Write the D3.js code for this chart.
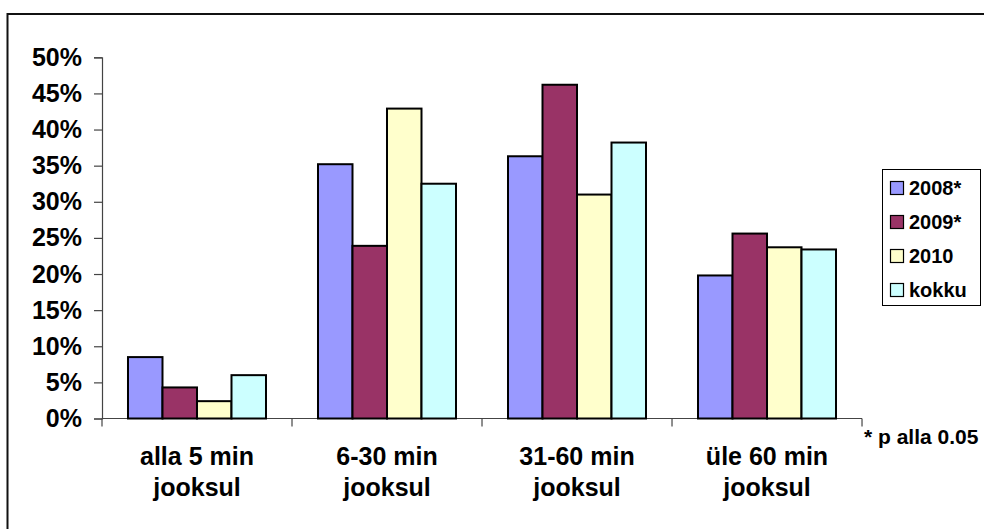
<!DOCTYPE html>
<html>
<head>
<meta charset="utf-8">
<script src="https://cdn.jsdelivr.net/npm/d3@7/dist/d3.min.js"></script>
<style>
  html, body { margin: 0; padding: 0; background: #fff; }
  svg { display: block; }
  text { font-family: Arial, "Liberation Sans", sans-serif; font-weight: bold; fill: #000; }
</style>
</head>
<body>
<svg id="chart" width="984" height="529"></svg>
<script>
// Response time categories (two-line labels)
const categories = ["alla 5 min|jooksul", "6-30 min|jooksul", "31-60 min|jooksul", "üle 60 min|jooksul"];
const seriesNames = ["2008*", "2009*", "2010", "kokku"];
const seriesColors = ["#9999FF", "#993366", "#FFFFCC", "#CCFFFF"];

// Shares per category, one array per series
const s2008 = [0.085, 0.352, 0.363, 0.198];
const s2009 = [0.043, 0.239, 0.462, 0.256];
const s2010 = [0.024, 0.429, 0.310, 0.237];
const sKokku = [0.060, 0.325, 0.382, 0.234];
const seriesValues = [s2008, s2009, s2010, sKokku];

const yTicks = [0, 0.05, 0.10, 0.15, 0.20, 0.25, 0.30, 0.35, 0.40, 0.45, 0.50];
const footnote = "* p alla 0.05";

const svg = d3.select("#chart");

// Outer frame
svg.append("rect")
  .attr("x", 7.5).attr("y", 14)
  .attr("width", 1000).attr("height", 600)
  .attr("fill", "none").attr("stroke", "#111").attr("stroke-width", 2);

const plot = { left: 102, right: 862, top: 57.3, bottom: 418.5 };

const y = d3.scaleLinear().domain([0, 0.5]).range([plot.bottom, plot.top]);

const x0 = d3.scaleBand()
  .domain(categories)
  .range([plot.left, plot.right])
  .paddingInner(0.2737)
  .paddingOuter(0.1368);

const x1 = d3.scaleBand()
  .domain(seriesNames)
  .range([0, x0.bandwidth()]);

// Y axis
const yAxis = d3.axisLeft(y)
  .tickValues(yTicks)
  .tickFormat(d3.format(".0%"))
  .tickSize(8)
  .tickPadding(12);

const gy = svg.append("g")
  .attr("transform", `translate(${plot.left},0)`)
  .call(yAxis);
gy.select(".domain").attr("stroke", "#444").attr("stroke-width", 1.2);
gy.selectAll(".tick line").attr("stroke", "#444").attr("stroke-width", 1.2);
gy.selectAll(".tick text")
  .style("font-size", "25px")
  .style("font-family", "Arial, 'Liberation Sans', sans-serif")
  .style("font-weight", "bold")
  .attr("fill", "#000");

// X axis line with category boundary ticks
const step = x0.step();
const boundaries = d3.range(categories.length + 1).map(i => plot.left + i * step);
svg.append("line")
  .attr("x1", plot.left).attr("x2", plot.right)
  .attr("y1", y(0)).attr("y2", y(0))
  .attr("stroke", "#444").attr("stroke-width", 1.2);
svg.selectAll(".xtick")
  .data(boundaries)
  .join("line")
  .attr("class", "xtick")
  .attr("x1", d => d).attr("x2", d => d)
  .attr("y1", y(0)).attr("y2", y(0) + 8)
  .attr("stroke", "#444").attr("stroke-width", 1.2);

// Bars
const groups = svg.selectAll(".grp")
  .data(categories)
  .join("g")
  .attr("class", "grp")
  .attr("transform", d => `translate(${x0(d)},0)`);

groups.selectAll("rect")
  .data((c, ci) => seriesNames.map((s, si) => ({ s, si, v: seriesValues[si][ci] })))
  .join("rect")
  .attr("x", d => x1(d.s))
  .attr("y", d => y(d.v))
  .attr("width", x1.bandwidth())
  .attr("height", d => y(0) - y(d.v))
  .attr("fill", d => seriesColors[d.si])
  .attr("stroke", "#000")
  .attr("stroke-width", 2);

// Category labels
const catLabels = svg.selectAll(".cat")
  .data(categories)
  .join("text")
  .attr("class", "cat")
  .attr("text-anchor", "middle")
  .style("font-size", "25px");
catLabels.each(function(d) {
  const cx = x0(d) + x0.bandwidth() / 2;
  const lines = d.split("|");
  d3.select(this).selectAll("tspan")
    .data(lines)
    .join("tspan")
    .attr("x", cx)
    .attr("y", (l, i) => 465 + i * 31)
    .text(l => l);
});

// Legend
const legend = svg.append("g");
legend.append("rect")
  .attr("x", 882.5).attr("y", 169.5)
  .attr("width", 98).attr("height", 136)
  .attr("fill", "#fff").attr("stroke", "#000").attr("stroke-width", 1);
const legendY = d3.scalePoint().domain(seriesNames).range([188, 290]);
const items = legend.selectAll(".item")
  .data(seriesNames)
  .join("g")
  .attr("class", "item")
  .attr("transform", d => `translate(0,${legendY(d)})`);
items.append("rect")
  .attr("x", 890.5).attr("y", -6.5)
  .attr("width", 13).attr("height", 13)
  .attr("fill", (d, i) => seriesColors[i])
  .attr("stroke", "#000").attr("stroke-width", 1.2);
items.append("text")
  .attr("x", 909)
  .attr("dy", "0.36em")
  .style("font-size", "20px")
  .text(d => d);

// Significance note
svg.append("text")
  .attr("x", 864).attr("y", 444)
  .style("font-size", "21px")
  .text(footnote);
</script>
</body>
</html>
